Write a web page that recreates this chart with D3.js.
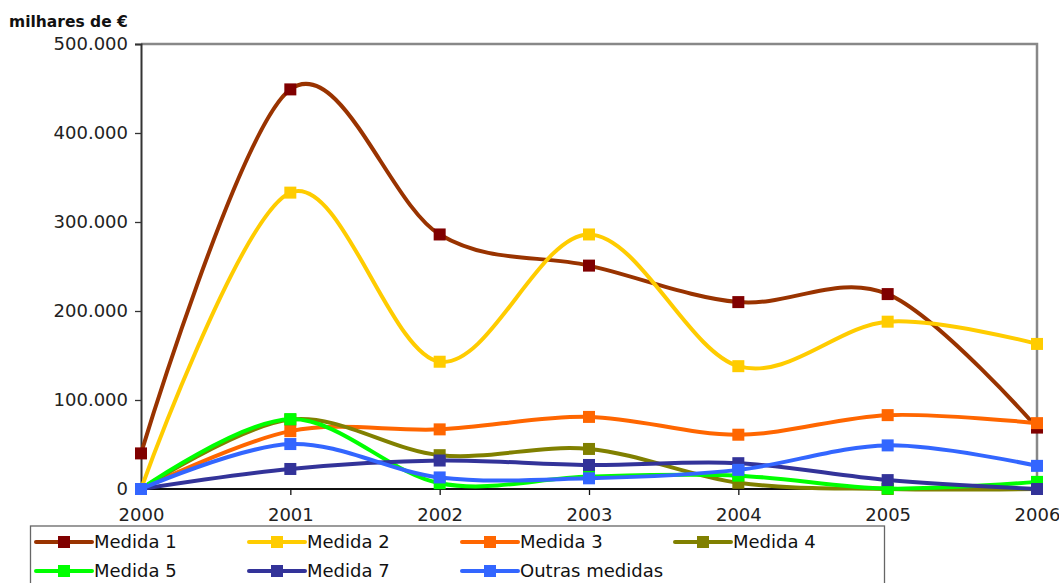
<!DOCTYPE html>
<html>
<head>
<meta charset="utf-8">
<script src="https://cdn.jsdelivr.net/npm/d3@7"></script>
<style>
html,body{margin:0;padding:0;background:#fff;}
svg{display:block;font-family:"DejaVu Sans",Verdana,sans-serif;}
</style>
</head>
<body>
<svg id="chart" width="1059" height="583"></svg>
<script>
const years = ["2000","2001","2002","2003","2004","2005","2006"];
const yTicks = [0,100000,200000,300000,400000,500000];
const seriesNames = ["Medida 1","Medida 2","Medida 3","Medida 4","Medida 5","Medida 7","Outras medidas"];
const medida1 = [40000,449000,286000,251000,210000,219000,69000];
const medida2 = [0,333000,143000,286000,138000,188000,163000];
const medida3 = [0,65000,67000,81000,61000,83000,74000];
const medida4 = [0,78000,38000,45000,7000,0,0];
const medida5 = [0,78500,6500,14000,15000,500,8000];
const medida7 = [0,22500,32000,27000,29000,10000,0];
const outras  = [0,50500,13000,12000,21500,49000,26000];
const lineColors   = ["#993300","#FFCC00","#FF6600","#808000","#00FF00","#333399","#3366FF"];
const markerColors = ["#800000","#FFCC00","#FF6600","#808000","#00FF00","#333399","#3366FF"];

const allValues = [medida1,medida2,medida3,medida4,medida5,medida7,outras];
const series = seriesNames.map((n,i)=>({name:n, values:allValues[i], line:lineColors[i], marker:markerColors[i]}));

const svg = d3.select("#chart");
const L = 141, R = 1037, T = 44, B = 489;

const x = d3.scalePoint().domain(years).range([L,R]);
const y = d3.scaleLinear().domain([0,500000]).range([B,T]);
const loc = d3.formatLocale({decimal:",",thousands:".",grouping:[3],currency:["","€"]});
const fmt = loc.format(",");

// plot frame (top/right grey)
svg.append("path")
  .attr("d",`M${L},${T}H${R}V${B}`)
  .attr("fill","none").attr("stroke","#888").attr("stroke-width",2.5);

// y axis
const yAxis = svg.append("g").attr("transform",`translate(${L},0)`)
  .call(d3.axisLeft(y).tickValues(yTicks).tickFormat(fmt).tickSize(6).tickPadding(7));
yAxis.select(".domain").attr("stroke","#333").attr("stroke-width",2);
yAxis.selectAll(".tick line").attr("stroke","#333").attr("stroke-width",1.3);
yAxis.selectAll("text").attr("font-size",18).attr("fill","#222")
  .attr("font-family","'DejaVu Sans',Verdana,sans-serif");

// x axis
const xAxis = svg.append("g").attr("transform",`translate(0,${B})`)
  .call(d3.axisBottom(x).tickSize(6).tickPadding(13));
xAxis.select(".domain").attr("stroke","#111").attr("stroke-width",2).attr("d",`M${L},0H${R}`);
xAxis.selectAll(".tick line").attr("stroke","#111").attr("stroke-width",1.3);
xAxis.selectAll("text").attr("font-size",18).attr("fill","#222")
  .attr("font-family","'DejaVu Sans',Verdana,sans-serif");

// unit label
svg.append("text").attr("x",9).attr("y",27).attr("font-size",15.5).attr("font-weight","bold")
  .attr("fill","#111").text("milhares de €");

// lines
const line = d3.line().x((d,i)=>x(years[i])).y(d=>y(d)).curve(d3.curveCardinal.tension(0));
const ms = 12;
series.forEach(s=>{
  const g = svg.append("g");
  g.append("path").attr("d",line(s.values)).attr("fill","none")
    .attr("stroke",s.line).attr("stroke-width",4).attr("stroke-linejoin","round").attr("stroke-linecap","round");
  g.selectAll("rect").data(s.values).enter().append("rect")
    .attr("x",(d,i)=>x(years[i])-ms/2).attr("y",d=>y(d)-ms/2)
    .attr("width",ms).attr("height",ms).attr("fill",s.marker);
});

// legend
svg.append("rect").attr("x",30.5).attr("y",526).attr("width",854).attr("height",80)
  .attr("fill","#fff").attr("stroke","#666").attr("stroke-width",1.3);
series.forEach((s,i)=>{
  const col = i%4, row = Math.floor(i/4);
  const x0 = 36 + col*213, yy = 542 + row*29;
  const g = svg.append("g");
  g.append("line").attr("x1",x0).attr("x2",x0+56).attr("y1",yy).attr("y2",yy)
    .attr("stroke",s.line).attr("stroke-width",4).attr("stroke-linecap","round");
  g.append("rect").attr("x",x0+28-ms/2).attr("y",yy-ms/2).attr("width",ms).attr("height",ms).attr("fill",s.marker);
  g.append("text").attr("x",x0+58).attr("y",yy).attr("dy","0.36em").attr("font-size",18)
    .attr("fill","#111").text(s.name);
});
</script>
</body>
</html>
